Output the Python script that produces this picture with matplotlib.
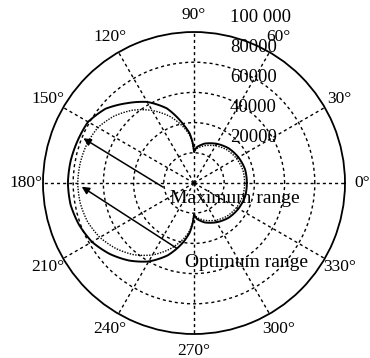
import numpy as np
import matplotlib
matplotlib.use('Agg')
import matplotlib.pyplot as plt
from matplotlib.transforms import ScaledTranslation

plt.rcParams['font.family'] = ['Liberation Serif', 'DejaVu Serif']
plt.rcParams['font.size'] = 13

# Maximum range pattern (solid), angle in degrees -> range
max_theta = [0, 15, 30, 45, 60, 75, 85, 90, 92, 95, 100, 110, 120, 130, 140, 150,
             160, 170, 180, 190, 200, 210, 220, 230, 240, 250, 260, 265, 268, 270,
             275, 285, 300, 315, 330, 345, 360]
max_range = [35000, 35000, 34000, 32500, 30000, 27000, 24000, 21000, 27000, 33000,
             39000, 52600, 62000, 69000, 76500, 81000, 82000, 83000, 83500, 83000,
             81000, 78000, 73000, 67000, 60000, 51000, 39500, 33000, 27000, 21000,
             24000, 27000, 30000, 32500, 34000, 35000, 35000]

# Optimum range pattern (dotted)
opt_theta = [0, 15, 30, 45, 60, 75, 85, 90, 92, 95, 100, 110, 120, 130, 140, 150,
             160, 170, 180, 190, 200, 210, 220, 230, 240, 250, 260, 265, 268, 270,
             275, 285, 300, 315, 330, 345, 360]
opt_range = [33500, 33500, 32500, 31000, 28500, 25500, 23000, 20500, 26000, 31500,
             37000, 47000, 55500, 63000, 69000, 73500, 75500, 76500, 77000, 76500,
             75000, 72000, 67500, 62000, 55000, 46500, 37000, 31500, 26000, 20500,
             23000, 25500, 28500, 31000, 32500, 33500, 33500]

r_ticks = [20000, 40000, 60000, 80000, 100000]
r_tick_labels = ['20000', '40000', '60000', '80000', '100 000']
theta_ticks = np.arange(0, 360, 30)
theta_tick_labels = [f'{a}°' for a in theta_ticks]

# arrows: (theta in degrees, range) for tail and head
arrow_max = [(187.5, 20700), (158.0, 79000)]
arrow_opt = [(255.2, 44700), (181.9, 74400)]

fig = plt.figure(figsize=(3.70, 3.58), dpi=100)
ax = fig.add_axes([0.1162, 0.067, 0.8162, 0.8436], projection='polar')

lines = ax.plot(np.deg2rad(max_theta), max_range, color='k', lw=1.4)
lines += ax.plot(np.deg2rad(opt_theta), opt_range, color='k', lw=1.0,
                 linestyle=(0, (1, 1)))
# draw segments as arcs in polar space rather than straight chords
for ln in lines:
    ln.get_path()._interpolation_steps = 30

for tail, head in (arrow_max, arrow_opt):
    ax.annotate('', xy=(np.deg2rad(head[0]), head[1]),
                xytext=(np.deg2rad(tail[0]), tail[1]),
                arrowprops=dict(arrowstyle='-|>', color='k', lw=1.1,
                                mutation_scale=11, shrinkA=0, shrinkB=0))

ax.set_ylim(0, 100000)
ax.set_yticks(r_ticks[:-1])
ax.set_yticklabels([])
ax.set_thetagrids(theta_ticks, theta_tick_labels)
ax.tick_params(axis='x', pad=2, labelsize=12.5)
ax.grid(True, color='k', lw=1.0, linestyle=(0, (2.2, 2.2)))
ax.spines['polar'].set_linewidth(1.3)

# range labels stacked just right of the 90 degree line
off = ScaledTranslation(36 / 100, 15 / 100, fig.dpi_scale_trans)
for v, lab in zip(r_ticks, r_tick_labels):
    ax.text(np.pi / 2, v, lab, transform=ax.transData + off,
            ha='left', va='center', fontsize=13.5)

ax.text(0.636, 0.450, 'Maximum range', transform=ax.transAxes,
        ha='center', va='center', fontsize=14)
ax.text(0.675, 0.238, 'Optimum range', transform=ax.transAxes,
        ha='center', va='center', fontsize=14)

fig.savefig('out.png', dpi=100)
